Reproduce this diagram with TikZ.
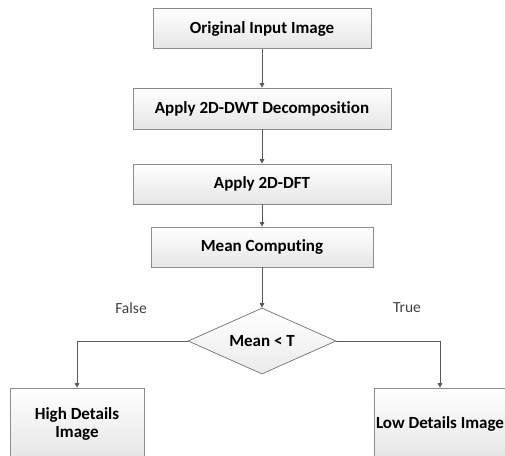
\documentclass[tikz,border=0pt]{standalone}
\usepackage{fontspec}
\setmainfont{Carlito}[Ligatures=NoCommon]
\usetikzlibrary{shapes.geometric,arrows.meta}
\begin{document}
\begin{tikzpicture}[x=1pt,y=-1pt,
  box/.style={draw=black!45, line width=0.7pt, top color=white, bottom color=black!10,
    font=\fontsize{17}{18.5}\selectfont\bfseries, align=center, inner sep=2pt},
  decision/.style={diamond, aspect=2.25, draw=black!55, line width=0.7pt, top color=white,
    bottom color=black!8, font=\fontsize{17}{18.5}\selectfont\bfseries, inner sep=1pt,
    minimum width=148pt, minimum height=66pt},
  flow/.style={draw=black!65, line width=0.7pt, -{Triangle[width=4.5pt,length=4.5pt]}},
  lbl/.style={font=\fontsize{15.5}{17}\selectfont, text=black!75}]
\useasboundingbox (0,0) rectangle (505,455);
\clip (0,0) rectangle (505,455);
\node[box, minimum width=218pt, minimum height=40pt] (b1) at (262,28.5) {Original Input Image};
\node[box, minimum width=258pt, minimum height=41pt] (b2) at (262,108.5) {Apply 2D-DWT Decomposition};
\node[box, minimum width=258pt, minimum height=40pt] (b3) at (262,184) {Apply 2D-DFT};
\node[box, minimum width=222pt, minimum height=40pt] (b4) at (262,247) {Mean Computing};
\node[decision] (d) at (262,341) {Mean < T};
\node[box, minimum width=134pt, minimum height=72pt] (hi) at (77,424) {High Details\\Image};
\node[box, minimum width=132pt, minimum height=72pt, inner sep=0pt] (lo) at (440,424) {Low Details Image};
\draw[flow] (b1) -- (b2);
\draw[flow] (b2) -- (b3);
\draw[flow] (b3) -- (b4);
\draw[flow] (b4) -- (d);
\draw[flow] (d.west) -| (hi.north);
\draw[flow] (d.east) -| (lo.north);
\node[lbl] (lf) at (131,308) {False};
\node[lbl] (lt) at (407,308) {True};
\end{tikzpicture}
\end{document}
